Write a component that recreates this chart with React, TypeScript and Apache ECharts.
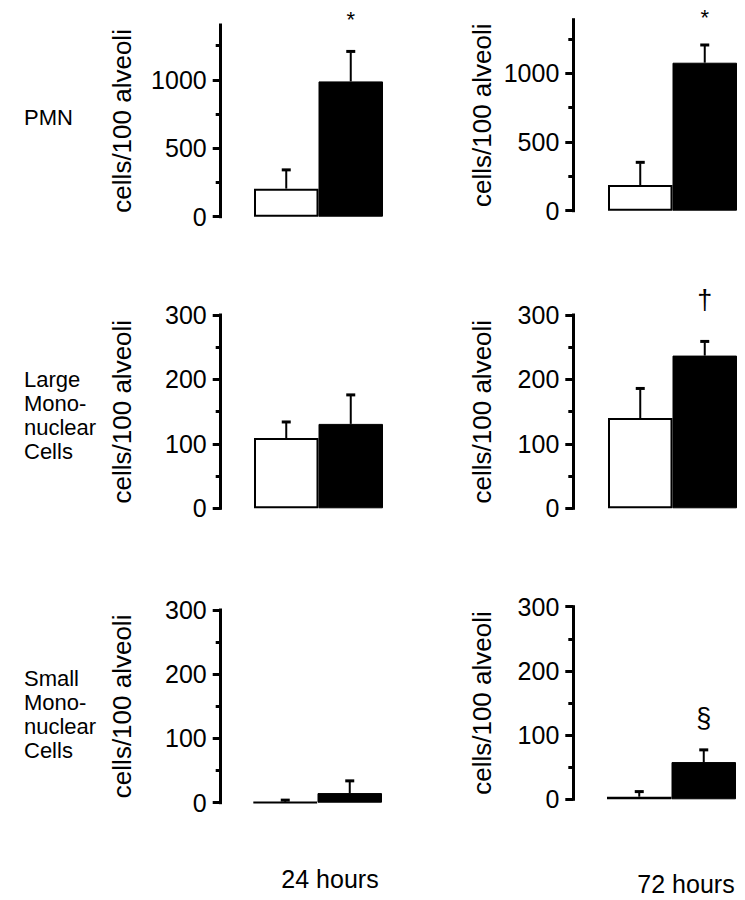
import React, { useEffect, useRef } from "react";
import * as echarts from "echarts";

// ---------- data ----------
const groups = ["Control", "Treated"];
const rowLabels = ["PMN", "Large\nMono-\nnuclear\nCells", "Small\nMono-\nnuclear\nCells"];
const timeLabels = ["24 hours", "72 hours"];
const axisTitle = "cells/100 alveoli";

// panels, row-major: PMN 24h, PMN 72h, Large 24h, Large 72h, Small 24h, Small 72h
const meanValues = [
  [205, 988],
  [187, 1077],
  [109, 131],
  [140, 237],
  [1, 15],
  [4, 58],
];
const errorValues = [
  [137, 219],
  [165, 129],
  [25, 45],
  [46, 22],
  [3, 19],
  [8, 19],
];
const axisMax = [1400, 1390, 300, 300, 300, 300];
const majorTicks = [
  [0, 500, 1000],
  [0, 500, 1000],
  [0, 100, 200, 300],
  [0, 100, 200, 300],
  [0, 100, 200, 300],
  [0, 100, 200, 300],
];
const minorTicks = [
  [250, 750, 1250],
  [250, 750, 1250],
  [50, 150, 250],
  [50, 150, 250],
  [50, 150, 250],
  [50, 150, 250],
];
const markerText = ["*", "*", "", "\u2020", "", "\u00a7"];
const markerValue = [1440, 1405, null, 323, null, 127];

// ---------- layout ----------
const FONT = "'Liberation Sans', Arial, Helvetica, sans-serif";
const gridRects = [
  { left: 254, top: 25, width: 129, height: 191.7 },
  { left: 608, top: 19.7, width: 129, height: 191 },
  { left: 254, top: 315, width: 129, height: 193.3 },
  { left: 608, top: 315, width: 129, height: 193.3 },
  { left: 253, top: 610, width: 129, height: 192.7 },
  { left: 607, top: 606.7, width: 129, height: 192.6 },
];
const axisOffsets = [33.3, 34.7, 33.3, 34.7, 32.3, 33.7];
const nameGaps = [86, 78, 86, 78, 86, 78];

function buildOption() {
  const grid: any[] = [];
  const xAxis: any[] = [];
  const yAxis: any[] = [];
  const series: any[] = [];

  meanValues.forEach((means, i) => {
    grid.push({ ...gridRects[i], containLabel: false });
    xAxis.push({
      type: "category",
      gridIndex: i,
      data: groups,
      show: false,
      boundaryGap: true,
    });
    // main axis (line, major ticks, labels, title)
    yAxis.push({
      type: "value",
      gridIndex: i,
      min: 0,
      max: axisMax[i],
      position: "left",
      offset: axisOffsets[i],
      axisLine: { show: true, lineStyle: { color: "#000", width: 3, cap: "square" } },
      axisTick: {
        show: true,
        length: 8,
        inside: false,
        customValues: majorTicks[i],
        lineStyle: { color: "#000", width: 3 },
      },
      axisLabel: {
        show: true,
        customValues: majorTicks[i],
        formatter: (v: number) => String(v),
        margin: 14,
        color: "#000",
        fontSize: 25,
        fontFamily: FONT,
      },
      splitLine: { show: false },
      name: axisTitle,
      nameLocation: "middle",
      nameGap: nameGaps[i],
      nameTextStyle: { color: "#000", fontSize: 26, fontFamily: FONT },
    });
    // minor tick axis
    yAxis.push({
      type: "value",
      gridIndex: i,
      min: 0,
      max: axisMax[i],
      position: "left",
      offset: axisOffsets[i],
      axisLine: { show: false },
      axisTick: {
        show: true,
        length: 5,
        inside: false,
        customValues: minorTicks[i],
        lineStyle: { color: "#000", width: 3 },
      },
      axisLabel: { show: false },
      splitLine: { show: false },
    });

    const yIdx = i * 2;
    series.push({
      type: "bar",
      xAxisIndex: i,
      yAxisIndex: yIdx,
      barCategoryGap: "0%",
      barGap: "0%",
      data: means.map((v, k) => ({
        value: v,
        itemStyle:
          k === 0
            ? { color: "#fff", borderColor: "#000", borderWidth: 2 }
            : { color: "#000", borderColor: "#000", borderWidth: 1 },
      })),
      z: 2,
    });
    series.push({
      type: "custom",
      xAxisIndex: i,
      yAxisIndex: yIdx,
      z: 3,
      data: means.map((v, k) => [k, v, errorValues[i][k]]),
      renderItem: (params: any, api: any) => {
        const x = api.value(0);
        const m = api.value(1);
        const e = api.value(2);
        const base = api.coord([x, m]);
        const top = api.coord([x, m + e]);
        return {
          type: "group",
          children: [
            {
              type: "line",
              shape: { x1: base[0], y1: base[1], x2: top[0], y2: top[1] + 1 },
              style: { stroke: "#000", lineWidth: 2 },
            },
            {
              type: "line",
              shape: { x1: top[0] - 4.5, y1: top[1], x2: top[0] + 4.5, y2: top[1] },
              style: { stroke: "#000", lineWidth: 3 },
            },
          ],
        };
      },
    });
    if (markerText[i]) {
      series.push({
        type: "custom",
        xAxisIndex: i,
        yAxisIndex: yIdx,
        z: 4,
        clip: false,
        data: [[1, markerValue[i]]],
        renderItem: (params: any, api: any) => {
          const p = api.coord([api.value(0), api.value(1)]);
          return {
            type: "text",
            x: p[0],
            y: p[1],
            style: {
              text: markerText[i],
              fill: "#000",
              fontSize: markerText[i] === "*" ? 22 : 27,
              fontFamily: FONT,
              align: "center",
              verticalAlign: "middle",
            },
          };
        },
      });
    }
  });

  const textStyle = (t: string, extra: any = {}) => ({
    text: t,
    fill: "#000",
    fontSize: 22,
    fontFamily: FONT,
    lineHeight: 24,
    ...extra,
  });

  const graphic: any[] = [
    { type: "text", x: 24, y: 117, style: textStyle(rowLabels[0], { verticalAlign: "middle" }) },
    { type: "text", x: 24, y: 415, style: textStyle(rowLabels[1], { verticalAlign: "middle" }) },
    { type: "text", x: 24, y: 714, style: textStyle(rowLabels[2], { verticalAlign: "middle" }) },
    {
      type: "text",
      x: 330,
      y: 879,
      style: textStyle(timeLabels[0], { fontSize: 25, align: "center", verticalAlign: "middle" }),
    },
    {
      type: "text",
      x: 686,
      y: 884,
      style: textStyle(timeLabels[1], { fontSize: 25, align: "center", verticalAlign: "middle" }),
    },
  ];

  return {
    animation: false,
    backgroundColor: "#fff",
    textStyle: { fontFamily: FONT },
    grid,
    xAxis,
    yAxis,
    series,
    graphic,
  };
}

export default function App() {
  const ref = useRef<HTMLDivElement>(null);
  useEffect(() => {
    document.body.style.margin = "0";
    if (!ref.current) return;
    const chart = echarts.init(ref.current, undefined, { renderer: "svg" });
    chart.setOption(buildOption() as any);
    return () => chart.dispose();
  }, []);
  return (
    <div
      ref={ref}
      style={{ position: "absolute", left: 0, top: 0, width: 745, height: 900, background: "#fff" }}
    />
  );
}
